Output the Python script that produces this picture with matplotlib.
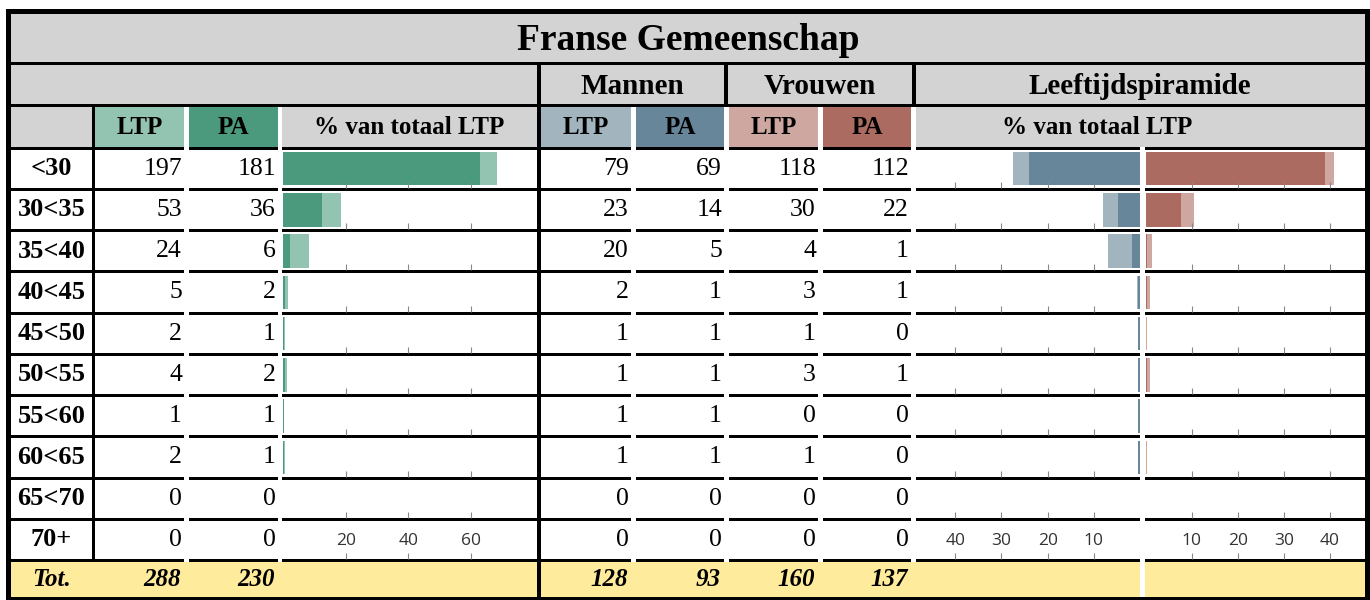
import matplotlib.pyplot as plt
from matplotlib.patches import Rectangle

ages = ['<30', '30<35', '35<40', '40<45', '45<50', '50<55', '55<60', '60<65', '65<70', '70+']
ltp = [197, 53, 24, 5, 2, 4, 1, 2, 0, 0]
pa = [181, 36, 6, 2, 1, 2, 1, 1, 0, 0]
m_ltp = [79, 23, 20, 2, 1, 1, 1, 1, 0, 0]
m_pa = [69, 14, 5, 1, 1, 1, 1, 1, 0, 0]
v_ltp = [118, 30, 4, 3, 1, 3, 0, 1, 0, 0]
v_pa = [112, 22, 1, 1, 0, 1, 0, 0, 0, 0]

tot_ltp = sum(ltp)
pct = lambda vals: [100.0 * v / tot_ltp for v in vals]

gray = '#d3d3d3'
yellow = '#ffeb9c'
green_l, green_d = '#93c4b1', '#4c9a7e'
blue_l, blue_d = '#a2b5bf', '#68869a'
red_l, red_d = '#cea7a1', '#ab6b61'
serif = 'Liberation Serif'

W, H = 1370, 600
fig = plt.figure(figsize=(13.7, 6), dpi=100)
fig.patch.set_facecolor('white')
bg = fig.add_axes([0, 0, 1, 1])
bg.set_xlim(0, W)
bg.set_ylim(H, 0)
bg.axis('off')


def box(x0, y0, x1, y1, color):
    bg.add_patch(Rectangle((x0, y0), x1 - x0, y1 - y0, facecolor=color,
                           edgecolor='none', lw=0))


def px_axes(x0, y0, x1, y1):
    return fig.add_axes([x0 / W, 1 - y1 / H, (x1 - x0) / W, (y1 - y0) / H])


# column spans (pixel x)
cols = [(11, 92), (95, 184), (189, 278), (282, 537), (541, 631), (636, 724),
        (729, 818), (823, 911), (916, 1140), (1145, 1365)]
line_y = [146.5 + 41.25 * k for k in range(11)]
lw = 3

# header rows
box(11, 14, 1365, 62, gray)
box(11, 62, 1365, 65, 'black')
box(11, 65, 1365, 104, gray)
box(11, 104, 1365, 107, 'black')
for x0, x1 in [(537, 541), (724, 728), (912, 916)]:
    box(x0, 65, x1, 104, 'black')

hdr_colors = [gray, green_l, green_d, gray, blue_l, blue_d, red_l, red_d, gray, gray]
for (x0, x1), c in zip(cols, hdr_colors):
    box(x0, 107, x1, 146.5, c)
box(1140, 107, 1145, 146.5, gray)

# row separators
for y in line_y:
    for i, (x0, x1) in enumerate(cols):
        if i == 0:
            x1 = 95
        if i == 3:
            x1 = 541
        box(x0, y, x1, y + lw, 'black')

# total row
box(11, 562, 1140, 597, yellow)
box(1145, 562, 1365, 597, yellow)

# vertical rules
box(92, 107, 95, 562, 'black')
box(537, 65, 541, 597, 'black')

# outer frame
box(6, 9, 1370, 14, 'black')
box(6, 9, 11, 600, 'black')
box(1365, 9, 1370, 600, 'black')
box(6, 597, 1370, 600, 'black')

# header texts
bg.text(688, 40, 'Franse Gemeenschap', ha='center', va='center',
        fontsize=27, fontweight='bold', family=serif)
for txt, xc in [('Mannen', 632), ('Vrouwen', 820), ('Leeftijdspiramide', 1140)]:
    bg.text(xc, 86, txt, ha='center', va='center', fontsize=21,
            fontweight='bold', family=serif)
row3 = [('LTP', 139.5), ('PA', 233.5), ('% van totaal LTP', 409.5), ('LTP', 586),
        ('PA', 680), ('LTP', 773.5), ('PA', 867), ('% van totaal LTP', 1097)]
for txt, xc in row3:
    bg.text(xc, 128, txt, ha='center', va='center', fontsize=18,
            fontweight='bold', family=serif)

# data rows
num_cols = [(1, ltp), (2, pa), (4, m_ltp), (5, m_pa), (6, v_ltp), (7, v_pa)]
for r, age in enumerate(ages):
    yc = (line_y[r] + lw + line_y[r + 1]) / 2
    bg.text(51.5, yc, age, ha='center', va='center', fontsize=19,
            fontweight='bold', family=serif)
    for ci, vals in num_cols:
        bg.text(cols[ci][1] - 2, yc, str(vals[r]), ha='right', va='center',
                fontsize=18.5, family=serif)

# totals
yt = (562 + 597) / 2
bg.text(51.5, yt, 'Tot.', ha='center', va='center', fontsize=18,
        fontweight='bold', style='italic', family=serif)
for ci, vals in num_cols:
    bg.text(cols[ci][1] - 3, yt, str(sum(vals)), ha='right', va='center',
            fontsize=18, fontweight='bold', style='italic', family=serif)

# sparkline bars per row
panels = [
    ((283, 537), (0, 81), pct(ltp), pct(pa), green_l, green_d, [20, 40, 60]),
    ((916, 1140), (48.5, 0), pct(m_ltp), pct(m_pa), blue_l, blue_d, [10, 20, 30, 40]),
    ((1145.5, 1365), (0, 47.6), pct(v_ltp), pct(v_pa), red_l, red_d, [10, 20, 30, 40]),
]
for r in range(len(ages)):
    y0, y1 = line_y[r] + lw, line_y[r + 1]
    for (x0, x1), xlim, light, dark, cl, cd, ticks in panels:
        ax = px_axes(x0, y0, x1, y1)
        ax.barh([0], [light[r]], height=0.88, color=cl, lw=0)
        ax.barh([0], [dark[r]], height=0.88, color=cd, lw=0)
        ax.set_xlim(*xlim)
        ax.set_ylim(-0.5, 0.5)
        ax.patch.set_alpha(0)
        for s in ax.spines.values():
            s.set_visible(False)
        ax.set_yticks([])
        ax.set_xticks(ticks)
        last = r == len(ages) - 1
        ax.tick_params(axis='x', direction='in', length=4, width=0.8,
                       color='#888888', labelbottom=last, pad=-19,
                       labelsize=12.5, labelcolor='#333333')
        for lab in ax.get_xticklabels():
            lab.set_family('Open Sans')

fig.savefig('out.png', dpi=100)
